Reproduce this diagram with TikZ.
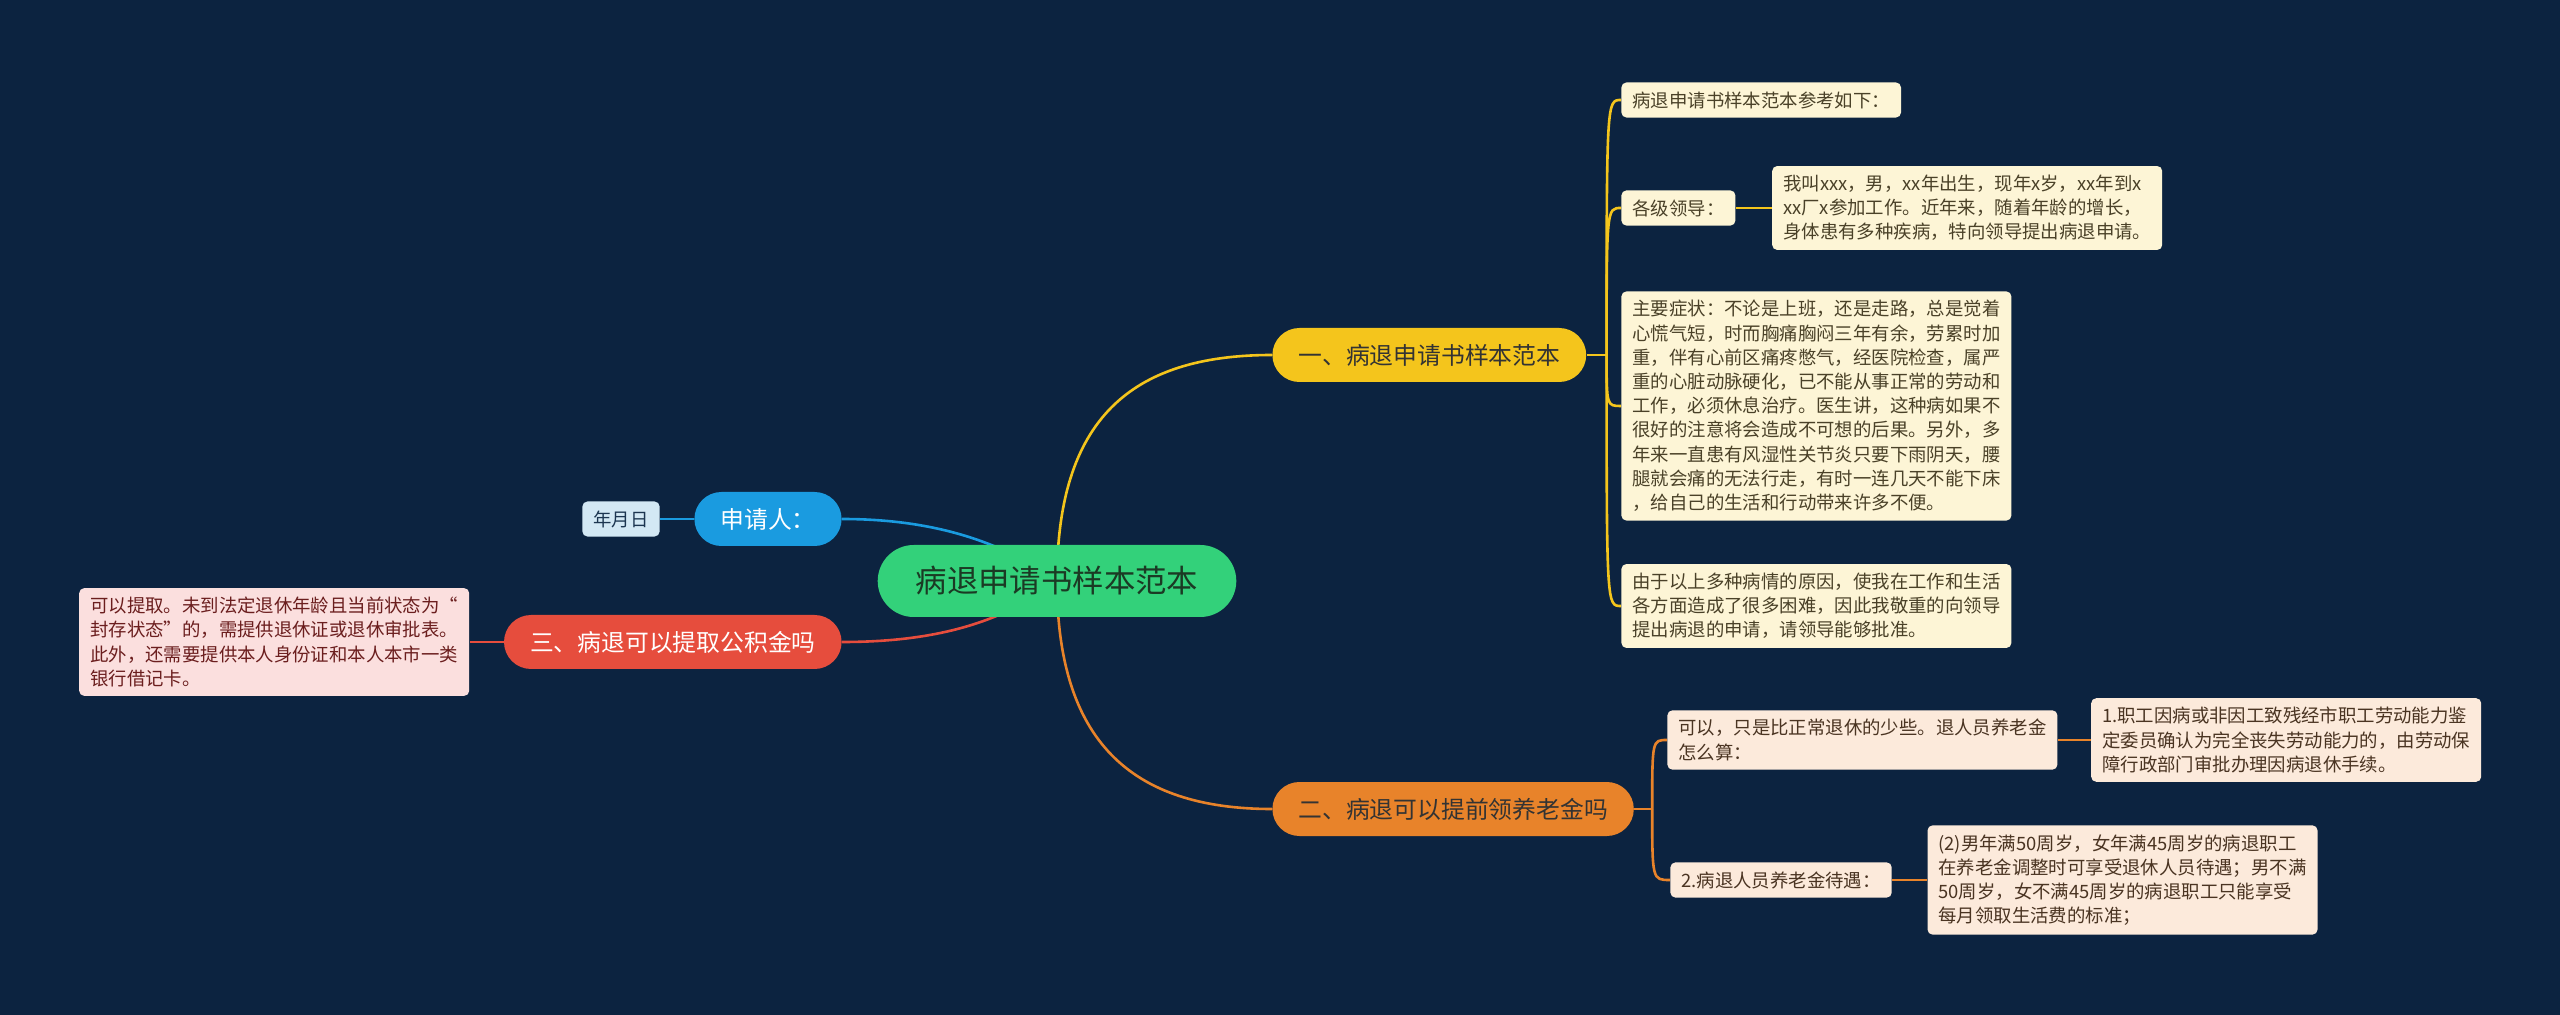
\documentclass[tikz,border=0pt]{standalone}
\usepackage{fontspec}
\setmainfont{Noto Sans CJK SC}
\usetikzlibrary{positioning}

\definecolor{navy}{HTML}{0C2340}
\definecolor{rootgreen}{HTML}{33D17A}
\definecolor{rootink}{HTML}{1B3A24}
\definecolor{topicyellow}{HTML}{F4C51C}
\definecolor{topicorange}{HTML}{E8832A}
\definecolor{topicblue}{HTML}{1A9BE0}
\definecolor{topicred}{HTML}{E64D3D}
\definecolor{yleaf}{HTML}{FDF5D6}
\definecolor{yink}{HTML}{4A4128}
\definecolor{oleaf}{HTML}{FCEADB}
\definecolor{oink}{HTML}{4A3422}
\definecolor{rleaf}{HTML}{FBDFDE}
\definecolor{rink}{HTML}{6B1E1E}
\definecolor{bleaf}{HTML}{D3E8F4}
\definecolor{bink}{HTML}{1C3550}

\pgfdeclarelayer{bg}
\pgfdeclarelayer{edges}
\pgfsetlayers{bg,edges,main}

\begin{document}
\begin{tikzpicture}[x=0.5pt, y=-0.5pt,
    central/.style={rectangle, rounded corners=18pt, fill=rootgreen, text=rootink, minimum height=36pt, inner xsep=19pt, font=\fontsize{15.7}{18}\selectfont},
    topic/.style={rectangle, rounded corners=13.5pt, minimum height=27pt, inner xsep=13pt, font=\fontsize{11.9}{14}\selectfont},
    leaf/.style={rectangle, rounded corners=2.5pt, align=left, inner xsep=5.5pt, inner ysep=4.5pt, font=\fontsize{9.2}{12.1}\selectfont},
    leafy/.style={leaf, fill=yleaf, text=yink},
    leafo/.style={leaf, fill=oleaf, text=oink},
    leafr/.style={leaf, fill=rleaf, text=rink},
    leafb/.style={leaf, fill=bleaf, text=bink},
    wire/.style={line width=1.3pt}]
    \useasboundingbox (0,0) rectangle (2560,1015);
    \begin{pgfonlayer}{bg}
        \fill [navy] (0,0) rectangle (2560,1015);
    \end{pgfonlayer}

    % centre and main topics
    \node [central] (root) at (1057,581) {病退申请书样本范本};
    \node [topic, fill=topicyellow, text=black!80, anchor=west] (sample) at (1272,355) {一、病退申请书样本范本};
    \node [topic, fill=topicorange, text=black!80, anchor=west] (pension) at (1272,809) {二、病退可以提前领养老金吗};
    \node [topic, fill=topicblue, text=white, anchor=east] (applicant) at (842,519) {申请人：};
    \node [topic, fill=topicred, text=white, anchor=east] (fund) at (842,642) {三、病退可以提取公积金吗};

    % left side
    \node [leafb, left=17pt of applicant] (date) {年月日};
    \node [leafr, left=17pt of fund] (fundtext) {可以提取。未到法定退休年龄且当前状态为“\\封存状态”的，需提供退休证或退休审批表。\\此外，还需要提供本人身份证和本人本市一类\\银行借记卡。};

    % sample letter
    \node [leafy, anchor=west] (intro) at (1621,100) {病退申请书样本范本参考如下：};
    \node [leafy, anchor=west] (leaders) at (1621,208) {各级领导：};
    \node [leafy, right=18pt of leaders] (self) {我叫xxx，男，xx年出生，现年x岁，xx年到x\\xx厂x参加工作。近年来，随着年龄的增长，\\身体患有多种疾病，特向领导提出病退申请。};
    \node [leafy, anchor=west] (symptom) at (1621,406) {主要症状：不论是上班，还是走路，总是觉着\\心慌气短，时而胸痛胸闷三年有余，劳累时加\\重，伴有心前区痛疼憋气，经医院检查，属严\\重的心脏动脉硬化，已不能从事正常的劳动和\\工作，必须休息治疗。医生讲，这种病如果不\\很好的注意将会造成不可想的后果。另外，多\\年来一直患有风湿性关节炎只要下雨阴天，腰\\腿就会痛的无法行走，有时一连几天不能下床\\，给自己的生活和行动带来许多不便。};
    \node [leafy, anchor=west] (request) at (1621,606) {由于以上多种病情的原因，使我在工作和生活\\各方面造成了很多困难，因此我敬重的向领导\\提出病退的申请，请领导能够批准。};

    % pension
    \node [leafo, anchor=west] (howto) at (1667,740) {可以，只是比正常退休的少些。退人员养老金\\怎么算：};
    \node [leafo, right=16.5pt of howto] (rule) {1.职工因病或非因工致残经市职工劳动能力鉴\\定委员确认为完全丧失劳动能力的，由劳动保\\障行政部门审批办理因病退休手续。};
    \node [leafo, anchor=west] (treat) at (1670,880) {2.病退人员养老金待遇：};
    \node [leafo, right=17.5pt of treat] (treattext) {(2)男年满50周岁，女年满45周岁的病退职工\\在养老金调整时可享受退休人员待遇；男不满\\50周岁，女不满45周岁的病退职工只能享受\\每月领取生活费的标准；};

    \begin{pgfonlayer}{edges}
        \draw [wire, topicyellow] (root.center) .. controls (1057,420) and (1130,355) .. (sample.west);
        \draw [wire, topicorange] (root.center) .. controls (1057,740) and (1130,809) .. (pension.west);
        \draw [wire, topicblue] (root.center) .. controls (1000,540) and (930,519) .. (applicant.east);
        \draw [wire, topicred] (root.center) .. controls (1000,625) and (930,642) .. (fund.east);
        \draw [wire, topicblue] (applicant) -- (date);
        \draw [wire, topicred] (fund) -- (fundtext);

        \draw [wire, topicyellow] (sample.east) -- ++(20,0) coordinate (sj);
        \foreach \leafname in {intro, leaders, symptom, request}
            \draw [wire, topicyellow] (sj) .. controls (sj |- \leafname.west) .. (\leafname.west);
        \draw [wire, topicyellow] (leaders) -- (self);

        \draw [wire, topicorange] (pension.east) -- ++(18,0) coordinate (pj);
        \foreach \leafname in {howto, treat}
            \draw [wire, topicorange] (pj) .. controls (pj |- \leafname.west) .. (\leafname.west);
        \draw [wire, topicorange] (howto) -- (rule);
        \draw [wire, topicorange] (treat) -- (treattext);
    \end{pgfonlayer}
\end{tikzpicture}
\end{document}
